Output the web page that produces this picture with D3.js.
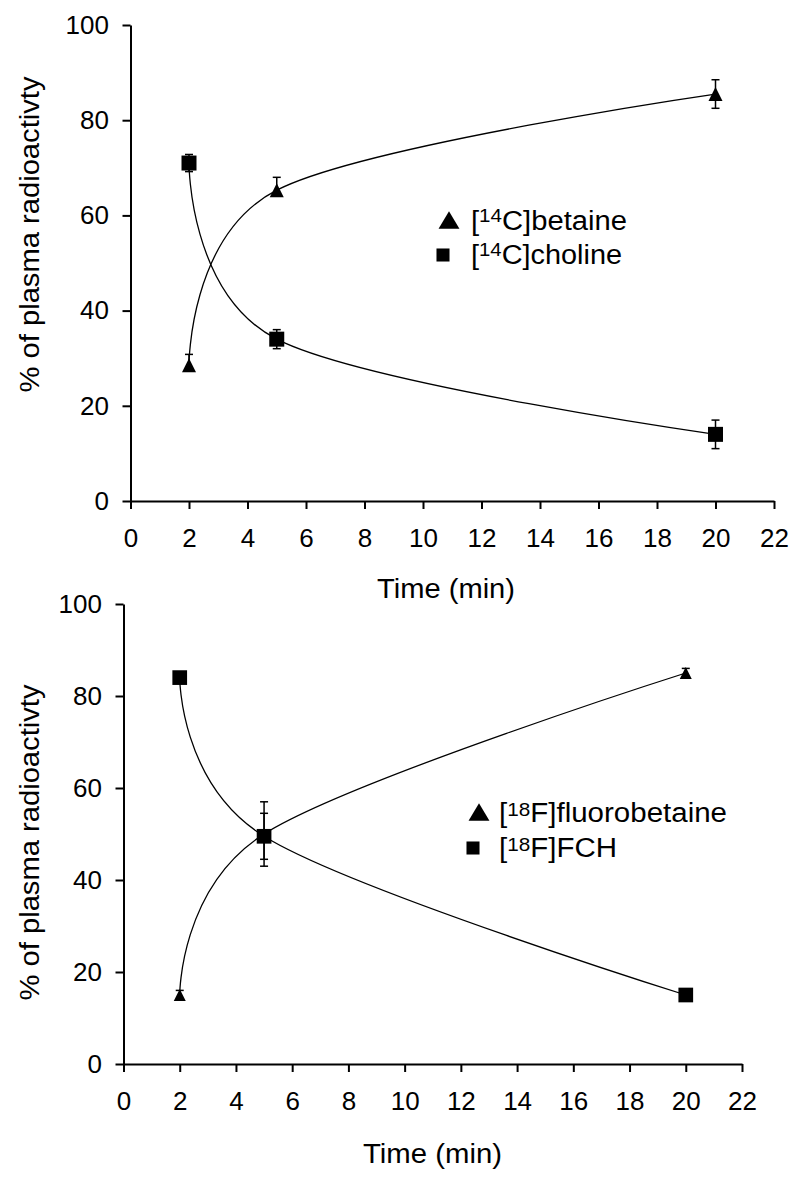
<!DOCTYPE html>
<html><head><meta charset="utf-8">
<script src="https://cdn.jsdelivr.net/npm/d3@7"></script>
<style>
html,body{margin:0;padding:0;background:#fff;}
text{font-family:Arial,"Liberation Sans",sans-serif;fill:#000;}
</style></head>
<body>
<svg id="chart" width="800" height="1180"></svg>
<script>
// ---- data ----
const times = [2, 5, 20];
const xTicks = [0, 2, 4, 6, 8, 10, 12, 14, 16, 18, 20, 22];
const yTicks = [0, 20, 40, 60, 80, 100];

const betaine14C = [28.5, 65.3, 85.5];
const betaine14CErrUp = [2.3, 2.7, 3];
const betaine14CErrDown = [0.8, 0.8, 3];
const choline14C = [71, 34, 14];
const choline14CErr = [1.8, 2, 3];

const fluorobetaine18F = [15, 50, 85];
const fluorobetaine18FErr = [1, 7, 1];
const fch18F = [84, 49.5, 15];
const fch18FErr = [0.5, 5, 0.5];

const yTitle = "% of plasma radioactivty";
const xTitle = "Time (min)";

// triangle centred on its bounding box (as spreadsheet markers are)
const triBox = {
  draw(ctx, size) {
    const w = Math.sqrt(size), h = w;
    ctx.moveTo(0, -h / 2);
    ctx.lineTo(w / 2, h / 2);
    ctx.lineTo(-w / 2, h / 2);
    ctx.closePath();
  }
};

const panels = [
  {
    x: [130.5, 774], y: [501, 25], yTitleY: 234.5, xTitleX: 446, xTitleY: 598, xTitleLen: 138,
    triSize: 196, sqSize: 225,
    series: [
      {vals: betaine14C, up: betaine14CErrUp, down: betaine14CErrDown, shape: "tri", label: ["[", "14", "C]betaine"], len: 156},
      {vals: choline14C, up: choline14CErr, down: choline14CErr, shape: "sq", label: ["[", "14", "C]choline"], len: 151}
    ],
    legend: {x: 471, ys: [230, 264], mx: [449, 443], supDy: -8}
  },
  {
    x: [123.5, 742], y: [1064, 604], yTitleY: 842.5, xTitleX: 432.5, xTitleY: 1163, xTitleLen: 139,
    triSize: 144, sqSize: 216,
    series: [
      {vals: fluorobetaine18F, up: fluorobetaine18FErr, down: fluorobetaine18FErr, shape: "tri", label: ["[", "18", "F]fluorobetaine"], len: 228},
      {vals: fch18F, up: fch18FErr, down: fch18FErr, shape: "sq", label: ["[", "18", "F]FCH"], len: 118}
    ],
    legend: {x: 499, ys: [822, 857], mx: [479, 473], supDy: -6}
  }
];

const svg = d3.select("#chart");

panels.forEach(p => {
  const xs = d3.scaleLinear().domain([0, 22]).range(p.x);
  const ys = d3.scaleLinear().domain([0, 100]).range(p.y);
  const g = svg.append("g");

  // axes
  const xa = g.append("g").attr("transform", `translate(0,${p.y[0]})`)
    .call(d3.axisBottom(xs).tickValues(xTicks).tickSize(8).tickSizeOuter(0).tickPadding(20).tickFormat(d3.format("d")));
  const ya = g.append("g").attr("transform", `translate(${p.x[0]},0)`)
    .call(d3.axisLeft(ys).tickValues(yTicks).tickSize(8).tickSizeOuter(0).tickPadding(13.5).tickFormat(d3.format("d")));
  [xa, ya].forEach(a => {
    a.select(".domain").attr("stroke", "#000").attr("stroke-width", 2);
    a.selectAll(".tick line").attr("stroke", "#000").attr("stroke-width", 2);
    a.selectAll(".tick text").attr("font-size", 26).attr("fill", "#222")
      .style("font-family", "Arial, 'Liberation Sans', sans-serif");
  });

  // titles
  g.append("text").attr("x", p.xTitleX).attr("y", p.xTitleY).attr("text-anchor", "middle")
    .attr("font-size", 27).attr("textLength", p.xTitleLen).attr("lengthAdjust", "spacingAndGlyphs").text(xTitle);
  g.append("text").attr("transform", `translate(30,${p.yTitleY}) rotate(-90)`)
    .attr("text-anchor", "middle").attr("dominant-baseline", "central")
    .attr("font-size", 27).attr("textLength", 316).attr("lengthAdjust", "spacingAndGlyphs").text(yTitle);

  const line = d3.line().x((d, i) => xs(times[i])).y(d => ys(d)).curve(d3.curveCardinal.tension(0));

  p.series.forEach(s => {
    g.append("path").attr("d", line(s.vals)).attr("fill", "none").attr("stroke", "#000").attr("stroke-width", 1.3);
  });

  p.series.forEach(s => {
    const eb = g.append("g");
    s.vals.forEach((v, i) => {
      const cx = xs(times[i]);
      const y1 = ys(v + s.up[i]), y2 = ys(v - s.down[i]);
      eb.append("line").attr("x1", cx).attr("x2", cx).attr("y1", y1).attr("y2", y2).attr("stroke", "#000").attr("stroke-width", 1.5);
      [y1, y2].forEach(yy => eb.append("line").attr("x1", cx - 4).attr("x2", cx + 4).attr("y1", yy).attr("y2", yy).attr("stroke", "#000").attr("stroke-width", 1.5));
    });
  });

  p.series.forEach(s => {
    const sym = s.shape === "tri" ? d3.symbol().type(triBox).size(p.triSize) : d3.symbol().type(d3.symbolSquare).size(p.sqSize);
    g.selectAll(null).data(s.vals).enter().append("path")
      .attr("d", sym).attr("fill", "#000")
      .attr("transform", (d, i) => `translate(${xs(times[i])},${ys(d)})`);
  });

  // legend
  p.series.forEach((s, k) => {
    const ly = p.legend.ys[k];
    const sym = s.shape === "tri" ? d3.symbol().type(triBox).size(330) : d3.symbol().type(d3.symbolSquare).size(170);
    g.append("path").attr("d", sym).attr("fill", "#000")
      .attr("transform", s.shape === "tri" ? `translate(${p.legend.mx[k]},${ly - 10}) scale(1.15,0.95)` : `translate(${p.legend.mx[k]},${ly - 9})`);
    const t = g.append("text").attr("x", p.legend.x).attr("y", ly).attr("font-size", 27)
      .attr("textLength", s.len).attr("lengthAdjust", "spacingAndGlyphs");
    t.append("tspan").text(s.label[0]);
    t.append("tspan").attr("font-size", 19).attr("dy", p.legend.supDy).text(s.label[1]);
    t.append("tspan").attr("dy", -p.legend.supDy).text(s.label[2]);
  });
});
</script>
</body></html>
